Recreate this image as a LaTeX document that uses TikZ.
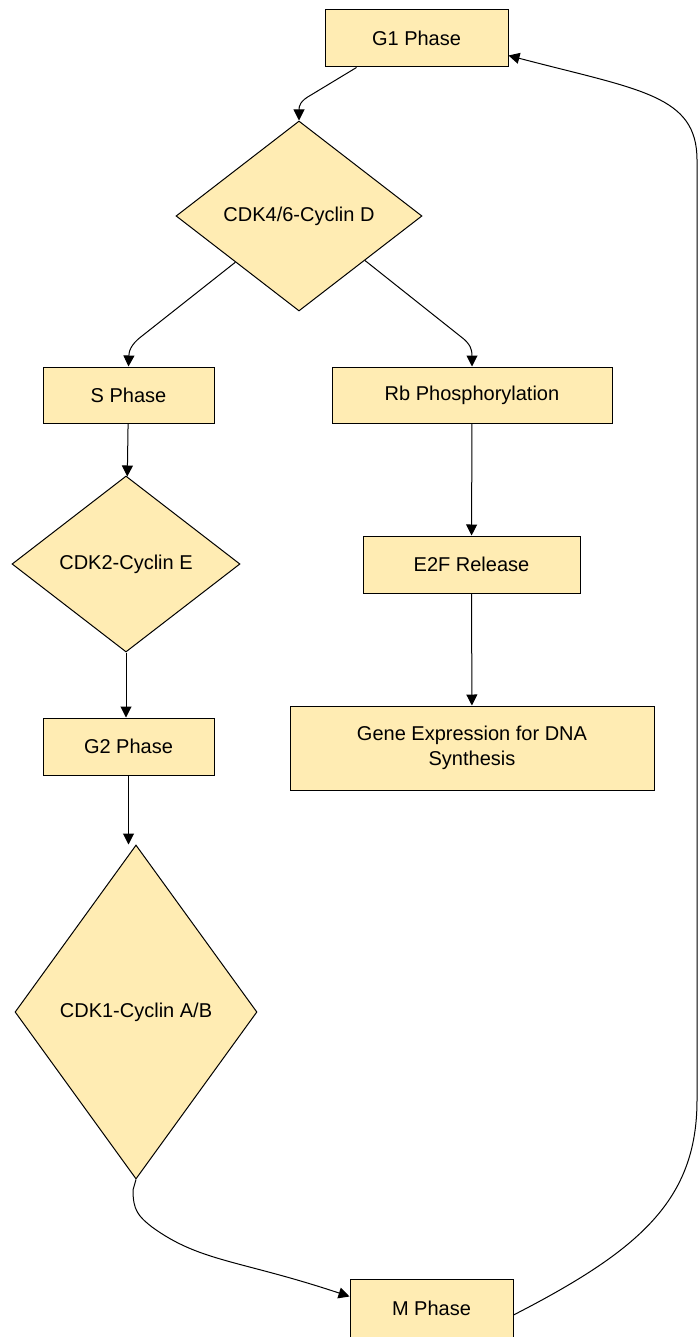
\documentclass[tikz,border=0pt]{standalone}
\usepackage{fontspec}
\setmainfont{Liberation Sans}
\usetikzlibrary{shapes.geometric, arrows.meta}
\definecolor{cyc}{RGB}{255,236,179}

\begin{document}
\begin{tikzpicture}[x=1pt, y=-1pt,
    box/.style={rectangle, draw, fill=cyc, line width=1pt, inner sep=0pt, font=\fontsize{20}{25}\selectfont, align=center},
    dia/.style={diamond, draw, fill=cyc, line width=1pt, inner sep=0pt, font=\fontsize{20}{25}\selectfont},
    a/.style={-{Triangle[length=11pt, width=11pt]}, line width=1pt},
]
\useasboundingbox (0,0) rectangle (700,1337);
\node[box, minimum width=183pt, minimum height=57pt] (g1) at (416.5,38.5) {G1 Phase};
\node[dia, minimum width=246pt, minimum height=190pt] (cd) at (299,216) {CDK4/6-Cyclin D};
\node[box, minimum width=171pt, minimum height=56pt] (sp) at (128.5,395) {S Phase};
\node[box, minimum width=280pt, minimum height=56pt] (rb) at (472,395) {Rb Phosphorylation};
\node[dia, minimum width=228pt, minimum height=176pt] (ce) at (126,564) {CDK2-Cyclin E};
\node[box, minimum width=217pt, minimum height=57pt] (ef) at (471.5,564.5) {E2F Release};
\node[box, minimum width=171pt, minimum height=57pt] (g2) at (128.5,746.5) {G2 Phase};
\node[box, minimum width=364pt, minimum height=84pt] (ge) at (472,748) {Gene Expression for DNA\\Synthesis};
\node[dia, minimum width=242pt, minimum height=334pt] (cab) at (136,1012) {CDK1-Cyclin A/B};
\node[box, minimum width=163pt, minimum height=58pt] (mp) at (431.5,1308) {M Phase};

\draw[a] ([xshift=-60pt]g1.south) -- (311,95) .. controls (300,101) and (299,106) .. (cd.north);
\draw[a] (cd.216) -- (142,336) .. controls (130,345) and (129,352) .. (sp.north);
\draw[a] (cd.-34) -- (460,336) .. controls (471,344) and (472,350) .. (rb.north);
\draw[a] (sp) -- (ce);
\draw[a] (rb) -- (ef);
\draw[a] (ef) -- (ge);
\draw[a] (ce.south) -- (ce.south |- g2.north);
\draw[a] (g2) -- (g2.south |- cab.north);
\draw[a] (cab.south) -- (133,1190) .. controls (133,1210) and (138,1216) .. (152,1227)
    .. controls (200,1262) and (240,1260) .. ([yshift=-18pt]mp.north west);
\draw[a] ([yshift=-7pt]mp.east) .. controls (640,1250) and (697,1200) .. (697,1100)
    -- (697,160) .. controls (697,95) and (640,90) .. ([yshift=-17pt]g1.east);
\end{tikzpicture}
\end{document}
